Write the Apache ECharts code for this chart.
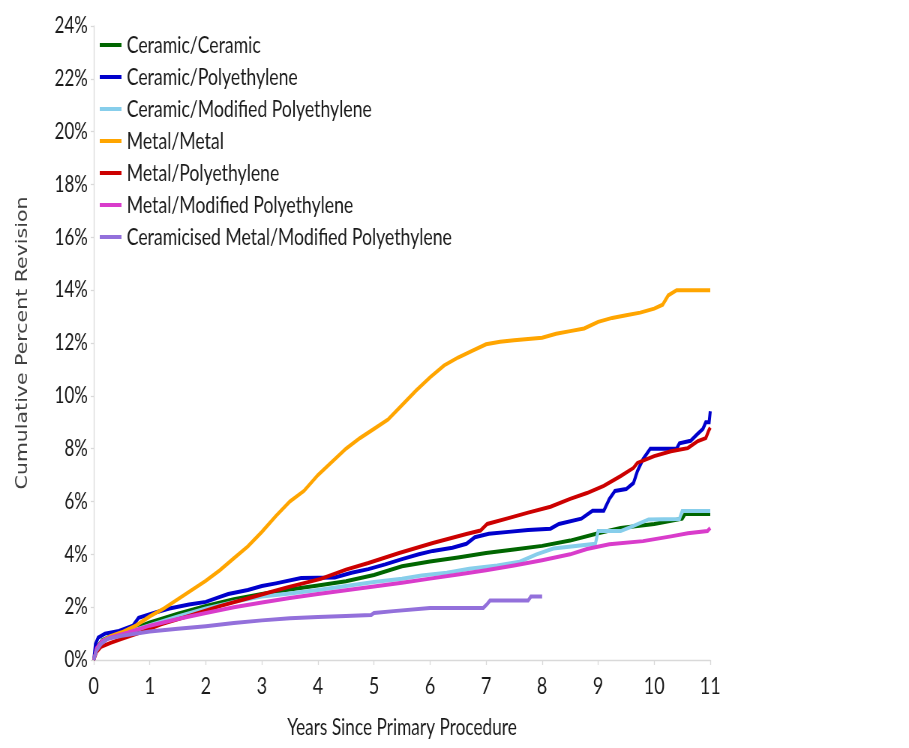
<!DOCTYPE html>
<html>
<head>
<meta charset="utf-8">
<title>Cumulative Percent Revision by Bearing Surface</title>
<script src="https://cdn.jsdelivr.net/npm/echarts@6/dist/echarts.min.js"></script>
<style>
  html, body { margin: 0; padding: 0; background: #ffffff; overflow: hidden; }
  /* The chart is laid out on a wider canvas and condensed horizontally to 909px */
  #wrap { width: 909px; height: 748px; overflow: hidden; }
  #chart { width: 1212px; height: 748px; transform: scaleX(0.75); transform-origin: 0 0; }
</style>
</head>
<body>
<div id="wrap"><div id="chart"></div></div>
<script>
// Series names (legend order, later series drawn on top)
const seriesNames = [
  'Ceramic/Ceramic',
  'Ceramic/Polyethylene',
  'Ceramic/Modified Polyethylene',
  'Metal/Metal',
  'Metal/Polyethylene',
  'Metal/Modified Polyethylene',
  'Ceramicised Metal/Modified Polyethylene'
];

// Axis ticks
const xTicks = [0, 1, 2, 3, 4, 5, 6, 7, 8, 9, 10, 11];
const yTicks = [0, 2, 4, 6, 8, 10, 12, 14, 16, 18, 20, 22, 24];

// Cumulative percent revision: [years since primary procedure, percent]
const ceramicCeramic = [
  [0, 0], [0.05, 0.45], [0.15, 0.75], [0.3, 0.9], [0.6, 1.1], [1, 1.42], [1.5, 1.75],
  [2, 2.05], [2.5, 2.3], [3, 2.5], [3.5, 2.67], [4, 2.82], [4.5, 2.98], [5, 3.22],
  [5.5, 3.55], [6, 3.73], [6.5, 3.88], [7, 4.05], [7.5, 4.18], [8, 4.32], [8.5, 4.52],
  [9, 4.8], [9.4, 5.0], [10, 5.15], [10.5, 5.35], [10.55, 5.53], [11, 5.53]
];

const ceramicPolyethylene = [
  [0, 0], [0.03, 0.6], [0.08, 0.85], [0.2, 1.0], [0.45, 1.1], [0.7, 1.3], [0.8, 1.6],
  [1.1, 1.8], [1.35, 1.95], [1.7, 2.1], [2.0, 2.2], [2.2, 2.35], [2.4, 2.5], [2.75, 2.65],
  [3.0, 2.8], [3.25, 2.9], [3.7, 3.1], [4.3, 3.12], [4.6, 3.3], [4.9, 3.44], [5.2, 3.62],
  [5.5, 3.82], [5.8, 4.0], [6.05, 4.13], [6.4, 4.25], [6.65, 4.4], [6.8, 4.65],
  [7.05, 4.78], [7.4, 4.85], [7.75, 4.92], [8.15, 4.97], [8.3, 5.15], [8.7, 5.35],
  [8.9, 5.65], [9.1, 5.65], [9.2, 6.1], [9.3, 6.4], [9.5, 6.47], [9.63, 6.7], [9.7, 7.15],
  [9.8, 7.6], [9.93, 8.0], [10.4, 8.0], [10.45, 8.2], [10.65, 8.3], [10.77, 8.55],
  [10.87, 8.75], [10.92, 9.0], [10.98, 9.0], [11, 9.42]
];

const ceramicModifiedPE = [
  [0, 0], [0.05, 0.4], [0.15, 0.72], [0.3, 0.88], [0.6, 1.05], [1, 1.32], [1.5, 1.65],
  [2, 1.95], [2.5, 2.2], [3, 2.4], [3.5, 2.52], [4, 2.65], [4.5, 2.8], [5, 2.95],
  [5.5, 3.08], [5.85, 3.2], [6.3, 3.3], [6.7, 3.45], [7.2, 3.58], [7.6, 3.72], [7.9, 4.0],
  [8.2, 4.22], [8.95, 4.4], [9.0, 4.88], [9.4, 4.88], [9.6, 5.05], [9.9, 5.32],
  [10.45, 5.34], [10.5, 5.64], [11, 5.64]
];

const metalMetal = [
  [0, 0], [0.05, 0.4], [0.15, 0.7], [0.3, 0.9], [0.5, 1.05], [0.75, 1.3], [1, 1.65],
  [1.25, 1.95], [1.5, 2.3], [1.75, 2.65], [2, 3.0], [2.25, 3.4], [2.5, 3.85], [2.75, 4.3],
  [3, 4.85], [3.25, 5.45], [3.5, 6.0], [3.75, 6.4], [4, 7.0], [4.25, 7.5], [4.5, 8.0],
  [4.75, 8.4], [5, 8.75], [5.25, 9.1], [5.5, 9.65], [5.75, 10.2], [6, 10.7], [6.25, 11.15],
  [6.5, 11.45], [6.75, 11.7], [7, 11.95], [7.25, 12.05], [7.5, 12.1], [7.75, 12.15],
  [8, 12.2], [8.25, 12.35], [8.5, 12.45], [8.75, 12.55], [9, 12.8], [9.25, 12.95],
  [9.5, 13.05], [9.75, 13.15], [10, 13.3], [10.15, 13.45], [10.25, 13.8], [10.4, 14.0],
  [11, 14.0]
];

const metalPolyethylene = [
  [0, 0], [0.05, 0.3], [0.13, 0.5], [0.3, 0.65], [0.5, 0.8], [0.8, 1.02], [1.2, 1.35],
  [1.7, 1.67], [2.25, 2.04], [2.9, 2.42], [3.45, 2.75], [4.05, 3.07], [4.5, 3.42],
  [4.9, 3.67], [5.45, 4.05], [6.05, 4.43], [6.65, 4.77], [6.9, 4.9], [7.02, 5.15],
  [7.4, 5.37], [7.75, 5.58], [8.15, 5.8], [8.5, 6.1], [8.8, 6.32], [9.1, 6.59],
  [9.4, 6.96], [9.63, 7.27], [9.7, 7.46], [10.0, 7.72], [10.3, 7.9], [10.6, 8.02],
  [10.78, 8.29], [10.92, 8.4], [10.97, 8.67], [11, 8.8]
];

const metalModifiedPE = [
  [0, 0], [0.05, 0.45], [0.15, 0.72], [0.3, 0.85], [0.6, 1.03], [1, 1.3], [1.5, 1.55],
  [2, 1.78], [2.5, 2.0], [3, 2.18], [3.5, 2.35], [4, 2.5], [4.5, 2.64], [5, 2.78],
  [5.5, 2.92], [6, 3.08], [6.5, 3.24], [7, 3.4], [7.5, 3.58], [8, 3.78], [8.5, 4.0],
  [8.8, 4.2], [9.2, 4.38], [9.8, 4.5], [10.3, 4.68], [10.6, 4.8], [10.95, 4.88], [11, 5.0]
];

const ceramicisedMetalModifiedPE = [
  [0, 0], [0.05, 0.35], [0.13, 0.6], [0.25, 0.8], [0.5, 0.92], [1, 1.08], [1.5, 1.18],
  [2, 1.28], [2.5, 1.4], [3, 1.5], [3.5, 1.58], [4, 1.63], [4.5, 1.67], [4.95, 1.7],
  [5.0, 1.78], [5.35, 1.85], [6.0, 1.97], [6.95, 1.97], [7.02, 2.12], [7.07, 2.25],
  [7.75, 2.25], [7.8, 2.4], [8.0, 2.4]
];

const seriesData = [
  ceramicCeramic, ceramicPolyethylene, ceramicModifiedPE, metalMetal,
  metalPolyethylene, metalModifiedPE, ceramicisedMetalModifiedPE
];

const seriesColors = ['#006600', '#0000cc', '#87ceeb', '#ffa500', '#cc0000', '#d93ccb', '#9370db'];

const labelFont = "Lato, 'Open Sans', sans-serif";

const chart = echarts.init(document.getElementById('chart'), null, { renderer: 'canvas' });

chart.setOption({
  animation: false,
  backgroundColor: '#ffffff',
  color: seriesColors,
  grid: { left: 125, right: 265, top: 26, bottom: 88, containLabel: false },
  legend: {
    orient: 'vertical',
    left: 133,
    top: 33,
    padding: 0,
    icon: 'rect',
    itemWidth: 29,
    itemHeight: 4,
    itemGap: 8,
    textStyle: { fontFamily: labelFont, fontSize: 23.5, color: '#1a1a1a', lineHeight: 23, padding: [0, 0, 0, 2] },
    data: seriesNames
  },
  xAxis: {
    type: 'value',
    min: xTicks[0],
    max: xTicks[xTicks.length - 1],
    interval: 1,
    name: 'Years Since Primary Procedure',
    nameLocation: 'middle',
    nameGap: 56,
    nameTextStyle: { fontFamily: labelFont, fontSize: 23, color: '#1a1a1a' },
    axisLine: { show: true, lineStyle: { color: '#d9d9d9', width: 1.3 } },
    axisTick: { show: true, length: 5, lineStyle: { color: '#d9d9d9', width: 1.3 } },
    splitLine: { show: false },
    axisLabel: { fontFamily: labelFont, fontSize: 24, color: '#1a1a1a', margin: 14 }
  },
  yAxis: {
    type: 'value',
    min: yTicks[0],
    max: yTicks[yTicks.length - 1],
    interval: 2,
    name: 'Cumulative Percent Revision',
    nameLocation: 'middle',
    nameRotate: 90,
    nameGap: 84,
    nameTextStyle: { fontFamily: "'DejaVu Sans', Verdana, sans-serif", fontSize: 20.5, color: '#404040' },
    axisLine: { show: true, lineStyle: { color: '#d9d9d9', width: 1.3 } },
    axisTick: { show: true, length: 4, lineStyle: { color: '#d9d9d9', width: 1.3 } },
    splitLine: { show: false },
    axisLabel: { fontFamily: labelFont, fontSize: 22.5, color: '#1a1a1a', margin: 8, formatter: '{value}%' }
  },
  series: seriesNames.map((name, i) => ({
    name: name,
    type: 'line',
    data: seriesData[i],
    showSymbol: false,
    symbol: 'none',
    smooth: false,
    clip: true,
    lineStyle: { width: 4, color: seriesColors[i], join: 'miter' },
    itemStyle: { color: seriesColors[i] },
    emphasis: { disabled: true },
    z: 2 + i
  }))
});
</script>
</body>
</html>
